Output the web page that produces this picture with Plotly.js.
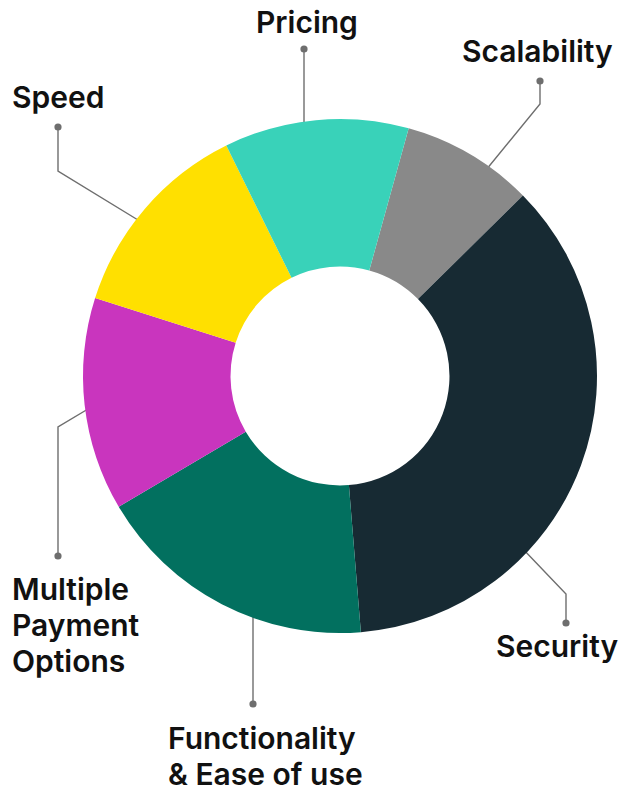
<!DOCTYPE html>
<html>
<head>
<meta charset="utf-8">
<script src="https://cdn.plot.ly/plotly-3.0.1.min.js"></script>
<style>html,body{margin:0;padding:0;background:#fff;}#chart{width:620px;height:790px;}</style>
</head>
<body>
<div id="chart"></div>
<script>
// ---- data ----
const categories = ['Scalability', 'Security', 'Functionality & Ease of use', 'Multiple Payment Options', 'Speed', 'Pricing'];
const shares = [8.3, 36.1, 17.8, 13.4, 12.8, 11.6];
const labelLines = [['Scalability'], ['Security'], ['Functionality', '& Ease of use'], ['Multiple', 'Payment', 'Options'], ['Speed'], ['Pricing']];
const colors = ['#898989', '#172a33', '#02705f', '#c935be', '#ffe000', '#39d2b9'];

// ---- label placement (pixel space of the 620x790 canvas) ----
const W = 620, H = 790;
const cx = 340, cy = 376, R = 257;
const LINE_GAP = 36;
const place = [
  {tx: 537, ty: 51, xa: 'center', path: [[540, 81], [540, 104], [486, 170]]},
  {tx: 557, ty: 646, xa: 'center', path: [[566, 623], [566, 594], [522, 548]]},
  {tx: 166, ty: 737.5, xa: 'left', path: [[253, 704], [253, 612]]},
  {tx: 10, ty: 589, xa: 'left', path: [[58, 556], [58, 427], [88, 409]]},
  {tx: 10, ty: 97, xa: 'left', path: [[58, 127], [58, 171], [138, 220]]},
  {tx: 307, ty: 22, xa: 'center', path: [[304, 49], [304, 124]]}
];

const shapes = [];
const annotations = [];
place.forEach((p, i) => {
  const d = p.path.map((pt, k) => (k ? 'L' : 'M') + pt[0] + ',' + pt[1]).join(' ');
  shapes.push({type: 'path', xref: 'x', yref: 'y', path: d, layer: 'below',
    line: {color: '#6e6e6e', width: 1.4}});
  const dot = p.path[0];
  shapes.push({type: 'circle', xref: 'x', yref: 'y', layer: 'below',
    x0: dot[0] - 3.6, x1: dot[0] + 3.6, y0: dot[1] - 3.6, y1: dot[1] + 3.6,
    fillcolor: '#6e6e6e', line: {width: 0}});
  labelLines[i].forEach((line, j) => {
    annotations.push({xref: 'x', yref: 'y', x: p.tx, y: p.ty + j * LINE_GAP, text: line,
      showarrow: false, xanchor: p.xa, yanchor: 'middle', align: 'left',
      font: {family: 'Inter, "Liberation Sans", sans-serif', size: 30, weight: 600, color: '#111111'}});
  });
});

const trace = {
  type: 'pie',
  labels: categories,
  values: shares,
  hole: 0.426,
  sort: false,
  direction: 'clockwise',
  rotation: 15.5,
  textinfo: 'none',
  hoverinfo: 'label+percent',
  marker: {colors: colors, line: {width: 0}},
  domain: {x: [(cx - R) / W, (cx + R) / W], y: [(H - cy - R) / H, (H - cy + R) / H]},
  showlegend: false
};

const layout = {
  width: W, height: H,
  margin: {l: 0, r: 0, t: 0, b: 0},
  paper_bgcolor: '#ffffff', plot_bgcolor: 'rgba(0,0,0,0)',
  xaxis: {range: [0, W], visible: false, fixedrange: true},
  yaxis: {range: [H, 0], visible: false, fixedrange: true},
  shapes: shapes,
  annotations: annotations,
  showlegend: false
};

Plotly.newPlot('chart', [trace], layout, {displayModeBar: false, staticPlot: true});
</script>
</body>
</html>
